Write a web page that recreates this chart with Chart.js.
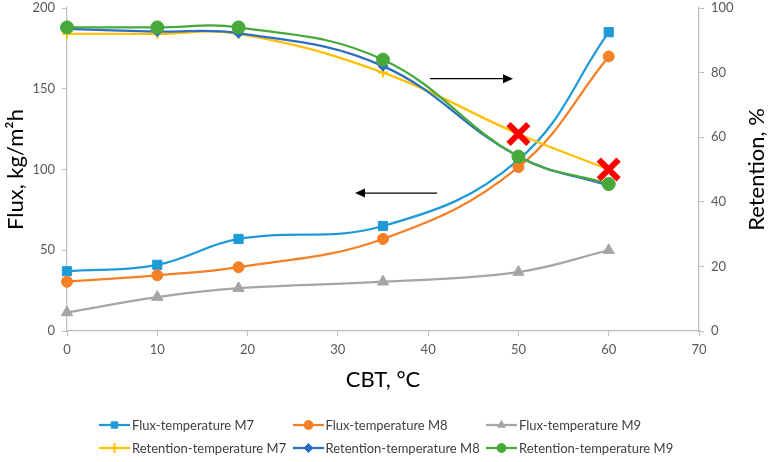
<!DOCTYPE html>
<html>
<head>
<meta charset="utf-8">
<title>Flux and retention vs CBT</title>
<script src="https://cdn.jsdelivr.net/npm/chart.js@4.4.1/dist/chart.umd.min.js"></script>
<style>
  html, body { margin: 0; padding: 0; background: #fff; }
  #wrap { position: relative; width: 773px; height: 462px; }
  #legend { position: absolute; left: 0; top: 0; width: 773px; height: 462px; pointer-events: none;
            font-family: Lato, sans-serif; font-size: 13px; color: #404040; }
  .item { position: absolute; display: flex; align-items: center; white-space: nowrap; height: 16px; }
  .item canvas { margin-right: 2px; }
</style>
</head>
<body>
<div id="wrap">
  <canvas id="chart" width="773" height="462"></canvas>
  <div id="legend"></div>
</div>
<script>
// data
const temps = [0, 10, 19, 35, 50, 60];
const fluxM7 = [37, 41, 57, 65, 106, 185];
const fluxM8 = [30.5, 34.5, 39.5, 57, 101.5, 170];
const fluxM9 = [11.5, 21, 26.5, 30.5, 36.5, 50];
const retM7 = [92, 92, 92, 80, 61, 50];
const retM8 = [93.5, 92.7, 92.2, 82, 54, 45];
const retM9 = [94, 94, 94, 84, 54, 45.5];
const crossedTemps = [50, 60]; // red X drawn over M7 retention

const xTicks = [0, 10, 20, 30, 40, 50, 60, 70];
const fluxTicks = [0, 50, 100, 150, 200];
const retTicks = [0, 20, 40, 60, 80, 100];

const seriesLabels = [
  'Flux-temperature M7', 'Flux-temperature M8', 'Flux-temperature M9',
  'Retention-temperature M7', 'Retention-temperature M8', 'Retention-temperature M9'
];
const xTitle = 'CBT, °C';
const fluxTitle = 'Flux, kg/m²h';
const retTitle = 'Retention, %';

// arrows pointing to the axis each group belongs to (in data units)
const arrows = [
  { axis: 'y2', x0: 40.2, x1: 49.4, y: 78.1 },
  { axis: 'y', x0: 41.0, x1: 31.9, y: 85.4 }
];

const colors = ['#1E9BD7', '#F58025', '#A5A5A5', '#FFC000', '#2E6FC4', '#47A93A'];
const FONT = 'Lato, sans-serif';

const pts = (vals) => temps.map((t, i) => ({ x: t, y: vals[i] }));

function ds(i, vals, axis, style, radius, extra) {
  return Object.assign({
    label: seriesLabels[i],
    data: pts(vals),
    yAxisID: axis,
    borderColor: colors[i],
    backgroundColor: colors[i],
    pointBackgroundColor: colors[i],
    pointBorderColor: colors[i],
    borderWidth: 2.25,
    tension: 0.4,
    pointStyle: style,
    pointRadius: radius,
    pointBorderWidth: 1,
    clip: false,
    order: 5 - i
  }, extra || {});
}

const isCrossed = (t) => crossedTemps.includes(t);

const datasets = [
  ds(0, fluxM7, 'y', 'rect', 6.5),
  ds(1, fluxM8, 'y', 'circle', 5.5),
  ds(2, fluxM9, 'y', 'triangle', 6.5),
  ds(3, retM7, 'y2', temps.map(t => isCrossed(t) ? 'crossRot' : 'cross'), temps.map(t => isCrossed(t) ? 14 : 5), {
    pointBorderColor: temps.map(t => isCrossed(t) ? '#FF0000' : colors[3]),
    pointBorderWidth: temps.map(t => isCrossed(t) ? 6 : 2)
  }),
  ds(4, retM8, 'y2', 'rectRot', 5),
  ds(5, retM9, 'y2', 'circle', 6.5)
];

const arrowPlugin = {
  id: 'arrows',
  afterDatasetsDraw(chart) {
    const ctx = chart.ctx;
    const xs = chart.scales.x;
    ctx.save();
    ctx.strokeStyle = '#000';
    ctx.fillStyle = '#000';
    ctx.lineWidth = 1.25;
    arrows.forEach(a => {
      const ys = chart.scales[a.axis];
      const px0 = xs.getPixelForValue(a.x0);
      const px1 = xs.getPixelForValue(a.x1);
      const py = ys.getPixelForValue(a.y);
      const dir = px1 > px0 ? 1 : -1;
      ctx.beginPath();
      ctx.moveTo(px0, py);
      ctx.lineTo(px1 - dir * 8, py);
      ctx.stroke();
      ctx.beginPath();
      ctx.moveTo(px1, py);
      ctx.lineTo(px1 - dir * 10, py - 4.5);
      ctx.lineTo(px1 - dir * 10, py + 4.5);
      ctx.closePath();
      ctx.fill();
    });
    ctx.restore();
  }
};

// right-hand title reads bottom-to-top like the left one
const rightTitlePlugin = {
  id: 'rightTitle',
  afterDraw(chart) {
    const ctx = chart.ctx;
    const area = chart.chartArea;
    const s = chart.scales.y2;
    ctx.save();
    ctx.translate(s.right - 16, (area.top + area.bottom) / 2);
    ctx.rotate(-Math.PI / 2);
    ctx.font = '22px ' + FONT;
    ctx.fillStyle = '#000';
    ctx.textAlign = 'center';
    ctx.textBaseline = 'middle';
    ctx.fillText(retTitle, 0, 0);
    ctx.restore();
  }
};

const axisGrid = { drawOnChartArea: false, tickLength: 5, color: '#BFBFBF', lineWidth: 1 };
const axisBorder = { color: '#BFBFBF', width: 1.25 };
const tickFont = { family: FONT, size: 13 };

function fixWidth(w) {
  return (s) => { s.width = w; s.paddingTop = 0; s.paddingBottom = 0; };
}

const chart = new Chart(document.getElementById('chart'), {
  type: 'line',
  data: { datasets },
  options: {
    responsive: false,
    animation: false,
    layout: { autoPadding: false, padding: { top: 8, bottom: 61, left: 0, right: 0 } },
    plugins: { legend: { display: false }, tooltip: { enabled: false } },
    scales: {
      x: {
        type: 'linear',
        min: xTicks[0], max: xTicks[xTicks.length - 1],
        ticks: { stepSize: xTicks[1] - xTicks[0], color: '#595959', font: tickFont, padding: 6 },
        grid: axisGrid, border: axisBorder,
        title: { display: true, text: xTitle, color: '#000', font: { family: FONT, size: 22 }, padding: { top: 0, bottom: 8 } },
        afterFit(s) { s.height = 70; s.paddingLeft = 0; s.paddingRight = 0; }
      },
      y: {
        position: 'left',
        min: fluxTicks[0], max: fluxTicks[fluxTicks.length - 1],
        ticks: { stepSize: fluxTicks[1] - fluxTicks[0], color: '#595959', font: tickFont, padding: 7 },
        grid: axisGrid, border: axisBorder,
        title: { display: true, text: fluxTitle, color: '#000', font: { family: FONT, size: 22 }, padding: { top: 3, bottom: 0 } },
        afterFit: fixWidth(67)
      },
      y2: {
        position: 'right',
        min: retTicks[0], max: retTicks[retTicks.length - 1],
        ticks: { stepSize: retTicks[1] - retTicks[0], color: '#595959', font: tickFont, padding: 7 },
        grid: axisGrid, border: axisBorder,
        afterFit: fixWidth(74)
      }
    }
  },
  plugins: [arrowPlugin, rightTitlePlugin]
});

// legend: three columns, two rows, line sample with marker in the middle
const legend = document.getElementById('legend');
datasets.forEach((d, i) => {
  const row = Math.floor(i / 3), col = i % 3;
  const item = document.createElement('div');
  item.className = 'item';
  item.style.left = (99 + col * 193.5) + 'px';
  item.style.top = (417 + row * 23) + 'px';
  const c = document.createElement('canvas');
  c.width = 31; c.height = 14;
  const g = c.getContext('2d');
  g.strokeStyle = d.borderColor;
  g.fillStyle = d.borderColor;
  g.lineWidth = 2.25;
  g.beginPath(); g.moveTo(0, 7); g.lineTo(31, 7); g.stroke();
  const style = Array.isArray(d.pointStyle) ? d.pointStyle[0] : d.pointStyle;
  g.lineWidth = style === 'cross' ? 2 : 1;
  Chart.helpers.drawPoint(g, { pointStyle: style, radius: style === 'cross' ? 5 : 4.5, borderWidth: g.lineWidth }, 15.5, 7);
  item.appendChild(c);
  const span = document.createElement('span');
  span.textContent = d.label;
  item.appendChild(span);
  legend.appendChild(item);
});
</script>
</body>
</html>
